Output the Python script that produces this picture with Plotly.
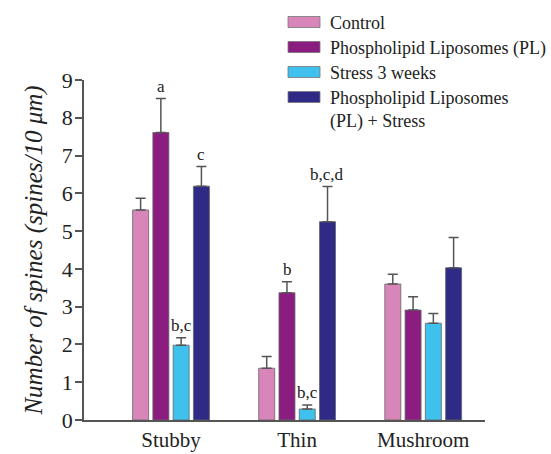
import plotly.graph_objects as go

categories = ["Stubby", "Thin", "Mushroom"]
series_names = ["Control", "Phospholipid Liposomes (PL)", "Stress 3 weeks",
                "Phospholipid Liposomes<br>(PL) + Stress"]
control = [5.56, 1.37, 3.60]
control_err = [0.31, 0.31, 0.26]
pl = [7.61, 3.37, 2.91]
pl_err = [0.90, 0.29, 0.35]
stress = [1.98, 0.29, 2.56]
stress_err = [0.20, 0.11, 0.26]
pl_stress = [6.19, 5.25, 4.03]
pl_stress_err = [0.52, 0.93, 0.80]
letters = [
    ["", "", ""],
    ["a", "b", ""],
    ["b,c", "b,c", ""],
    ["c", "b,c,d", ""],
]
y_ticks = [0, 1, 2, 3, 4, 5, 6, 7, 8, 9]

colors = ["#d886ba", "#8c1d80", "#3fc1ee", "#2e2a85"]
values = [control, pl, stress, pl_stress]
errors = [control_err, pl_err, stress_err, pl_stress_err]

xpos = list(range(len(categories)))
slot = 0.16
offsets = [-1.5 * slot, -0.5 * slot, 0.5 * slot, 1.5 * slot]

# plot area geometry (pixels) for legend placement
W, H = 551, 454
ML, MR, MT, MB = 84, 66, 80, 34
PW, PH = W - ML - MR, H - MT - MB


def px_x(p):
    return (p - ML) / PW


def px_y(p):
    return (H - MB - p) / PH


fig = go.Figure()
serif = "Liberation Serif, Times New Roman, serif"
for i in range(4):
    fig.add_trace(go.Bar(
        x=xpos, y=values[i], name=series_names[i], showlegend=False,
        marker=dict(color=colors[i], line=dict(color="#666", width=0.8)),
        error_y=dict(type="data", symmetric=False, array=errors[i],
                     arrayminus=[0] * len(categories),
                     color="#555", thickness=1.5, width=5),
    ))

annotations = []
for i in range(4):
    for j in range(len(categories)):
        if letters[i][j]:
            annotations.append(dict(
                x=xpos[j] + offsets[i], y=values[i][j] + errors[i][j],
                text=letters[i][j], showarrow=False, yanchor="bottom",
                yshift=1, font=dict(family=serif, size=17, color="#222")))

# custom legend (wide rectangular swatches like the original)
shapes = []
row_centers = [22, 47, 72, 97]
for i, name in enumerate(series_names):
    cy = row_centers[i]
    shapes.append(dict(type="rect", xref="paper", yref="paper",
                       x0=px_x(288), x1=px_x(320),
                       y0=px_y(cy + 5.5), y1=px_y(cy - 5.5),
                       fillcolor=colors[i], line=dict(color="#777", width=0.8)))
    annotations.append(dict(
        xref="paper", yref="paper", x=px_x(328), y=px_y(cy - 11),
        xanchor="left", yanchor="top", align="left", showarrow=False,
        text=name, font=dict(family=serif, size=18, color="#222")))

fig.update_layout(
    width=W, height=H,
    margin=dict(l=ML, r=MR, t=MT, b=MB),
    paper_bgcolor="white", plot_bgcolor="white",
    barmode="group", bargap=0.357, bargroupgap=0.21,
    showlegend=False,
    annotations=annotations, shapes=shapes,
    font=dict(family=serif, color="#222"),
)
fig.update_xaxes(
    range=[-0.69, 2.49], tickvals=xpos, ticktext=categories,
    showline=True, linecolor="#555", linewidth=1.5, ticks="",
    showgrid=False, zeroline=False, automargin=False,
    tickfont=dict(family=serif, size=21, color="#222"),
)
fig.update_yaxes(
    range=[0, 9], tickvals=y_ticks, showline=True, linecolor="#555",
    linewidth=1.5, ticks="outside", ticklen=7, tickwidth=1.5, tickcolor="#555",
    showgrid=False, zeroline=False, automargin=False, ticklabelstandoff=-2,
    tickfont=dict(family=serif, size=22, color="#222"),
    title=dict(text="<i>Number of spines (spines/10 μm)</i>",
               font=dict(family=serif, size=25, color="#222"), standoff=12),
)
fig.write_html(
    "out.html",
    config={"displayModeBar": False},
    post_script="document.body.style.margin='0';document.body.style.overflow='hidden';",
)
